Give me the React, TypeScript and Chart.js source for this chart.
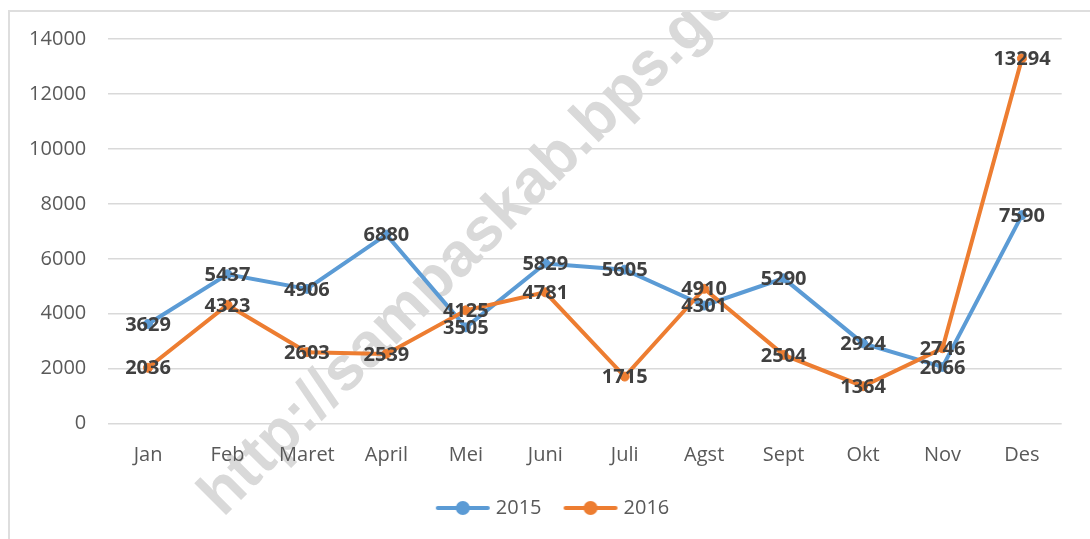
import { useEffect, useRef } from "react";
import { Chart, registerables } from "chart.js";

Chart.register(...registerables);

const categories = ["Jan", "Feb", "Maret", "April", "Mei", "Juni", "Juli", "Agst", "Sept", "Okt", "Nov", "Des"];
const series2015 = [3629, 5437, 4906, 6880, 3505, 5829, 5605, 4301, 5290, 2924, 2066, 7590];
const series2016 = [2036, 4323, 2603, 2539, 4125, 4781, 1715, 4910, 2504, 1364, 2746, 13294];
const seriesNames = ["2015", "2016"];
const seriesColors = ["#5B9BD5", "#ED7D31"];
const yMin = 0;
const yMax = 14000;
const yStep = 2000;
const watermarkText = "http://sampaskab.bps.go.id";

const FONT = "'Open Sans', 'Noto Sans', sans-serif";

function makeLegendIcon(color: string): HTMLCanvasElement {
  const c = document.createElement("canvas");
  c.width = 56;
  c.height = 16;
  const ctx = c.getContext("2d")!;
  ctx.strokeStyle = color;
  ctx.lineWidth = 4;
  ctx.lineCap = "round";
  ctx.beginPath();
  ctx.moveTo(3, 8);
  ctx.lineTo(53, 8);
  ctx.stroke();
  ctx.fillStyle = color;
  ctx.beginPath();
  ctx.arc(28, 8, 7, 0, Math.PI * 2);
  ctx.fill();
  return c;
}

const watermarkPlugin = {
  id: "watermark",
  beforeDraw(chart: any) {
    const ctx = chart.ctx as CanvasRenderingContext2D;
    ctx.save();
    ctx.translate(213, 506);
    ctx.rotate(-Math.PI / 4);
    ctx.font = "bold 62px 'Liberation Sans', Arial, sans-serif";
    ctx.fillStyle = "#d9d9d9";
    ctx.textAlign = "left";
    ctx.textBaseline = "alphabetic";
    ctx.fillText(watermarkText, 0, 0);
    ctx.restore();
  },
};

const legendShiftPlugin = {
  id: "legendShift",
  afterLayout(chart: any) {
    if (chart.legend) {
      chart.legend.left += 37.4;
    }
  },
};

const dataLabelPlugin = {
  id: "dataLabels",
  afterDatasetsDraw(chart: any) {
    const ctx = chart.ctx as CanvasRenderingContext2D;
    ctx.save();
    ctx.font = `bold 20px ${FONT}`;
    ctx.fillStyle = "#404040";
    ctx.textAlign = "center";
    ctx.textBaseline = "middle";
    chart.data.datasets.forEach((ds: any, di: number) => {
      const meta = chart.getDatasetMeta(di);
      meta.data.forEach((pt: any, i: number) => {
        ctx.fillText(String(ds.data[i]), pt.x, pt.y + 1);
      });
    });
    ctx.restore();
  },
};

export default function App() {
  const ref = useRef<HTMLCanvasElement>(null);

  useEffect(() => {
    if (!ref.current) return;
    const icons = seriesColors.map((c) => makeLegendIcon(c));
    const chart = new Chart(ref.current, {
      type: "line",
      data: {
        labels: categories,
        datasets: [
          {
            label: seriesNames[0],
            data: series2015,
            borderColor: seriesColors[0],
            backgroundColor: seriesColors[0],
            borderWidth: 4,
            pointRadius: 4.5,
            pointBorderWidth: 1,
            pointBackgroundColor: seriesColors[0],
            pointBorderColor: seriesColors[0],
            tension: 0,
            order: 1,
          },
          {
            label: seriesNames[1],
            data: series2016,
            borderColor: seriesColors[1],
            backgroundColor: seriesColors[1],
            borderWidth: 4,
            pointRadius: 4.5,
            pointBorderWidth: 1,
            pointBackgroundColor: seriesColors[1],
            pointBorderColor: seriesColors[1],
            tension: 0,
            order: 0,
          },
        ],
      },
      options: {
        animation: false,
        responsive: true,
        maintainAspectRatio: false,
        layout: { padding: { top: 27, left: 0, right: 28.3, bottom: 11 } },
        scales: {
          x: {
            offset: true,
            grid: { display: false, drawTicks: false },
            border: { display: false },
            ticks: { font: { family: FONT, size: 20 }, color: "#595959", padding: 20, maxRotation: 0, autoSkip: false },
            afterFit: (s: any) => {
              s.height = 48.3;
            },
          },
          y: {
            min: yMin,
            max: yMax,
            grid: { color: "#d9d9d9", lineWidth: 1.5, drawTicks: true, tickLength: 19, tickColor: "rgba(0,0,0,0)" },
            border: { display: false },
            ticks: {
              stepSize: yStep,
              font: { family: FONT, size: 20 },
              color: "#595959",
              padding: 3,
              callback: (v: any) => String(v),
            },
            afterFit: (s: any) => {
              s.width = 98.3;
            },
          },
        },
        plugins: {
          tooltip: { enabled: false },
          legend: {
            position: "bottom",
            labels: {
              usePointStyle: true,
              pointStyleWidth: 46,
              padding: 26,
              font: { family: FONT, size: 20 },
              color: "#595959",
              generateLabels: (ch: any) =>
                ch.data.datasets.map((ds: any, i: number) => ({
                  text: ds.label,
                  pointStyle: icons[i],
                  fillStyle: seriesColors[i],
                  strokeStyle: seriesColors[i],
                  lineWidth: 0,
                  hidden: !ch.isDatasetVisible(i),
                  datasetIndex: i,
                  fontColor: "#595959",
                })),
            },
          },
        },
      },
      plugins: [watermarkPlugin, legendShiftPlugin, dataLabelPlugin],
    } as any);
    return () => chart.destroy();
  }, []);

  return (
    <div
      style={{
        position: "fixed",
        left: 8,
        top: 10,
        width: 1082,
        height: 529,
        boxSizing: "border-box",
        borderLeft: "2px solid #dedede",
        borderTop: "2px solid #dedede",
        background: "#fff",
      }}
    >
      <div style={{ position: "relative", width: 1080, height: 527 }}>
        <canvas ref={ref} />
      </div>
    </div>
  );
}
